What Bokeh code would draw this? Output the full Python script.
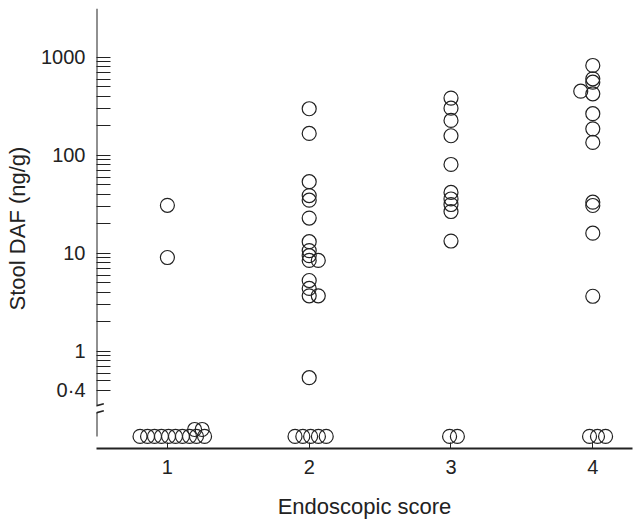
from bokeh.plotting import figure
from bokeh.models import Range1d, FixedTicker, Arrow, ColumnDataSource
from bokeh.embed import file_html
from bokeh.resources import INLINE

# ---- data ----
scores = [1, 2, 3, 4]
score_labels = ["1", "2", "3", "4"]

# detectable values (ng/g) and their x positions
col1_x = [1.0, 1.0]
col1_vals = [31, 9.1]
col2_x = [2, 2, 2, 2, 2, 2, 2, 2, 2, 2, 2.064, 2, 2, 2, 2.064, 2]
col2_vals = [300, 168, 54, 39, 35, 23, 13.2, 10.7, 9.5, 8.5, 8.5, 5.3, 4.4, 3.7, 3.7, 0.54]
col3_x = [3, 3, 3, 3, 3, 3, 3, 3, 3, 3]
col3_vals = [385, 304, 228, 159, 81, 42, 36, 31.6, 26.8, 13.4]
col4_x = [4, 4, 4, 3.915, 4, 4, 4, 4, 4, 4, 4, 4]
col4_vals = [829, 606, 560, 453, 426, 267, 187, 136, 33.4, 30.9, 16.1, 3.66]

# undetectable samples, plotted below the axis break
nd_level = 0.136
nd_level_upper = 0.160
nd_x = [0.807, 0.860, 0.909, 0.958, 1.008, 1.057, 1.106, 1.156, 1.205, 1.262,
        1.90, 1.955, 2.01, 2.065, 2.12,
        2.99, 3.045,
        3.977, 4.033, 4.09]
nd_upper_x = [1.192, 1.245]

y_major = [0.4, 1, 10, 100, 1000]
y_major_labels = ["0\u00b74", "1", "10", "100", "1000"]
y_minor = [0.5, 0.6, 0.7, 0.8, 0.9,
           2, 3, 4, 5, 6, 7, 8, 9,
           20, 30, 40, 50, 60, 70, 80, 90,
           200, 300, 400, 500, 600, 700, 800, 900]

# axis break geometry (values on the y scale)
break_hi = 0.281
break_lo = 0.239

INK = "#222222"
FONT = "Liberation Sans"

x_lo, x_hi = 0.5, 4.28
y_lo, y_hi = 10 ** -0.99, 10 ** 3.5

p = figure(width=640, height=524, x_range=Range1d(x_lo, x_hi),
           y_range=Range1d(y_lo, y_hi), y_axis_type="log",
           output_backend="svg", toolbar_location=None,
           min_border_left=96, min_border_right=8, min_border_top=8,
           min_border_bottom=76)
p.outline_line_color = None
p.grid.visible = False
p.background_fill_color = "white"

all_x = col1_x + col2_x + col3_x + col4_x + nd_x + nd_upper_x
all_y = (col1_vals + col2_vals + col3_vals + col4_vals
         + [nd_level] * len(nd_x) + [nd_level_upper] * len(nd_upper_x))
src = ColumnDataSource(dict(x=all_x, y=all_y))
p.scatter("x", "y", source=src, size=14, marker="circle",
          fill_alpha=0, line_color=INK, line_width=1.2)

# x axis
xa = p.xaxis[0]
xa.ticker = FixedTicker(ticks=scores)
xa.major_label_overrides = {s: l for s, l in zip(scores, score_labels)}
xa.axis_line_width = 2
xa.axis_line_color = INK
xa.major_tick_in = 6
xa.major_tick_out = 0
xa.major_tick_line_color = INK
xa.minor_tick_line_color = None
xa.major_label_standoff = 11
xa.major_label_text_font = FONT
xa.major_label_text_font_size = "20px"
xa.major_label_text_color = INK
xa.axis_label = "Endoscopic score"
xa.axis_label_text_font = FONT
xa.axis_label_text_font_size = "22px"
xa.axis_label_text_font_style = "normal"
xa.axis_label_text_color = INK
xa.axis_label_standoff = 17

# y axis
ya = p.yaxis[0]
ya.ticker = FixedTicker(ticks=y_major, minor_ticks=y_minor)
ya.major_label_overrides = {t: l for t, l in zip(y_major, y_major_labels)}
ya.axis_line_color = None
ya.major_tick_in = 14
ya.major_tick_out = 0
ya.minor_tick_in = 14
ya.minor_tick_out = 0
ya.major_tick_line_color = INK
ya.minor_tick_line_color = INK
ya.major_label_standoff = 11
ya.major_label_text_font = FONT
ya.major_label_text_font_size = "20px"
ya.major_label_text_color = INK
ya.axis_label = "Stool DAF (ng/g)"
ya.axis_label_text_font = FONT
ya.axis_label_text_font_size = "22px"
ya.axis_label_text_font_style = "normal"
ya.axis_label_text_color = INK
ya.axis_label_standoff = 8

# y axis line with a break
for y0, y1 in [(y_hi, break_hi), (break_lo, nd_level)]:
    p.add_layout(Arrow(end=None, x_start=x_lo, y_start=y0, x_end=x_lo, y_end=y1,
                       line_color=INK, line_width=2))
# break marks
for y0, y1 in [(0.2664, 0.2925), (0.2259, 0.2483)]:
    p.add_layout(Arrow(end=None, x_start=0.4457, y_start=y0, x_end=0.5515, y_end=y1,
                       line_color=INK, line_width=1.5))

open("out.html", "w").write(file_html(p, INLINE))
